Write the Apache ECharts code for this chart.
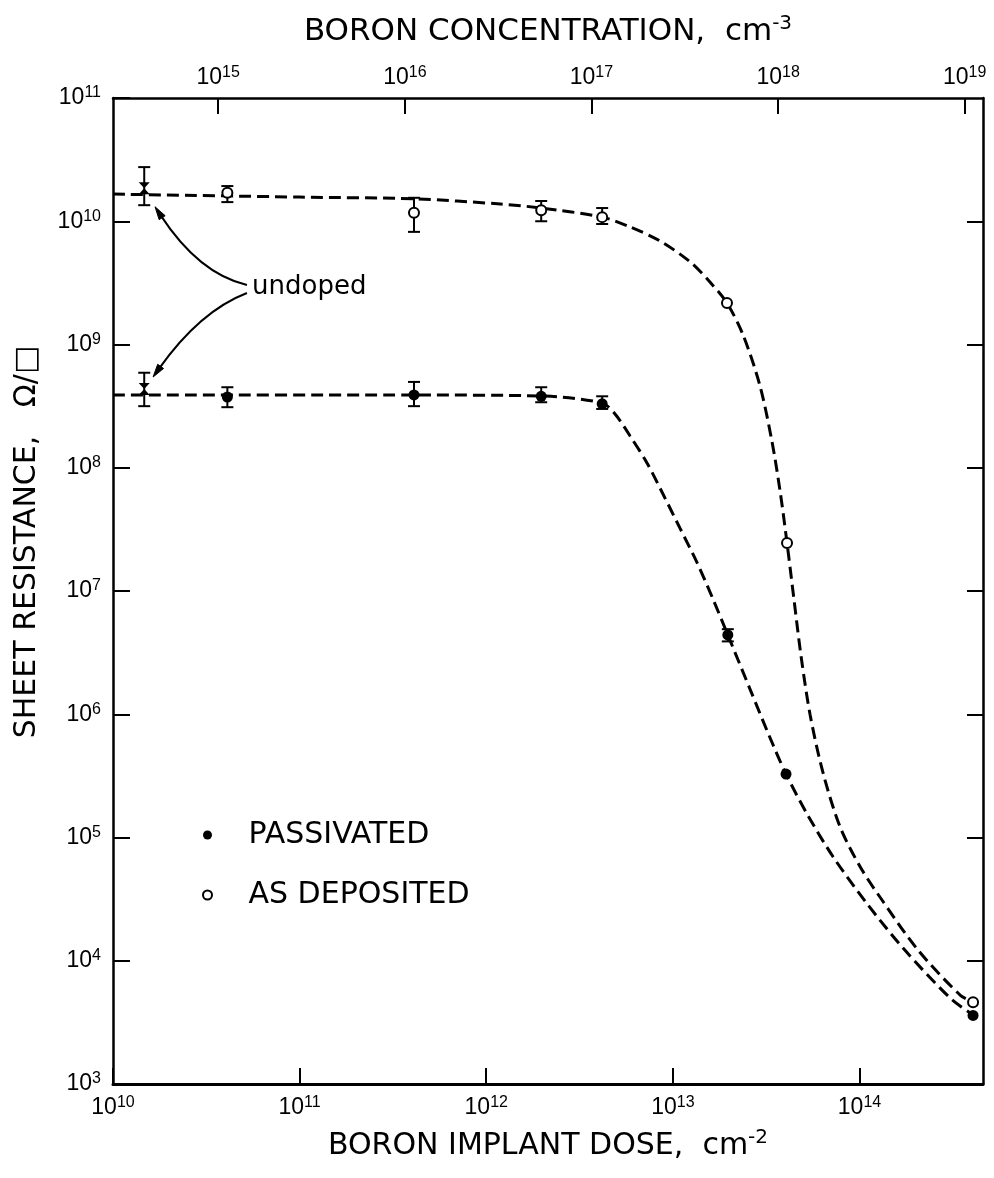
<!DOCTYPE html>
<html>
<head>
<meta charset="utf-8">
<script src="https://cdn.jsdelivr.net/npm/echarts@6/dist/echarts.min.js"></script>
<style>
html,body{margin:0;padding:0;background:#fff;}
#chart{width:994px;height:1178px;}
</style>
</head>
<body>
<div id="chart"></div>
<script>
// ---- axis ticks ----
const doseTicks = [1e10, 1e11, 1e12, 1e13, 1e14];
const concTicks = [1e15, 1e16, 1e17, 1e18, 1e19];
const resTicks = [1e3, 1e4, 1e5, 1e6, 1e7, 1e8, 1e9, 1e10, 1e11];
const resRightTicks = [1e4, 1e5, 1e6, 1e7, 1e8, 1e9, 1e10];
const doseRange = [1e10, 4.59e14];
const resRange = [1e3, 1e11];
const concPerDose = 2.73e4; // top axis: concentration = dose * factor

// ---- measured points: AS DEPOSITED (open circles) ----
const asDepDose = [4.1e10, 4.1e11, 1.97e12, 4.18e12, 1.95e13, 4.09e13, 4.06e14];
const asDepRes  = [1.7e10, 1.17e10, 1.23e10, 1.08e10, 2.17e9, 2.45e7, 4.6e3];
const asDepErrDose = [4.1e10, 4.1e11, 1.97e12, 4.18e12];
const asDepErrLow  = [1.43e10, 8.2e9, 1.0e10, 9.5e9];
const asDepErrHigh = [1.93e10, 1.55e10, 1.46e10, 1.28e10];

// ---- measured points: PASSIVATED (filled) ----
const passDose = [4.1e10, 4.1e11, 1.97e12, 4.18e12, 1.97e13, 4.04e13, 4.06e14];
const passRes  = [3.75e8, 3.9e8, 3.8e8, 3.3e8, 4.4e6, 3.27e5, 3.6e3];
const passErrDose = [4.1e10, 4.1e11, 1.97e12, 4.18e12, 1.97e13];
const passErrLow  = [3.1e8, 3.16e8, 3.4e8, 3.0e8, 3.9e6];
const passErrHigh = [4.5e8, 4.97e8, 4.5e8, 3.8e8, 4.9e6];

// ---- undoped samples ----
const undopedDose = [1.47e10, 1.47e10];
const undopedRes  = [1.85e10, 4.35e8];
const undopedErrLow  = [1.35e10, 3.16e8];
const undopedErrHigh = [2.75e10, 5.9e8];

// ---- dashed fit curves ----
const asDepCurveDose = [1.0e10, 1.0e11, 4.1e11, 1.19e12, 1.97e12, 4.18e12, 5.9e12, 8.53e12, 1.24e13, 1.58e13, 1.95e13, 2.38e13, 2.93e13, 3.4e13, 3.76e13, 4.09e13, 4.46e13, 4.87e13, 5.44e13, 6.38e13, 7.87e13, 1.01e14, 1.32e14, 2.06e14, 3.46e14, 4.06e14];
const asDepCurveRes  = [1.66e10, 1.57e10, 1.52e10, 1.38e10, 1.28e10, 1.08e10, 8.98e9, 6.92e9, 4.67e9, 3.21e9, 2.17e9, 1.19e9, 4.61e8, 1.62e8, 6.36e7, 2.45e7, 8.45e6, 2.91e6, 9.86e5, 3.34e5, 1.22e5, 5.76e4, 3.11e4, 1.22e4, 5.27e3, 4.62e3];
const passCurveDose = [1.0e10, 4.1e11, 1.97e12, 4.18e12, 4.9e12, 5.9e12, 7.28e12, 8.85e12, 1.09e13, 1.35e13, 1.64e13, 1.97e13, 2.59e13, 3.32e13, 4.04e13, 5.24e13, 7.23e13, 1.1e14, 1.75e14, 3.06e14, 4.06e14];
const passCurveRes  = [3.89e8, 3.89e8, 3.82e8, 3.35e8, 2.73e8, 1.81e8, 1.09e8, 6.12e7, 3.25e7, 1.69e7, 8.61e6, 4.4e6, 1.6e6, 6.42e5, 3.27e5, 1.55e5, 6.95e4, 2.89e4, 1.22e4, 4.99e3, 3.63e3];

// ---- annotation: label anchor and curved arrows [start, control, end] ----
const undopedLabelAt = [5.56e10, 2.93e9];
const arrowStart = [[5.22e10, 3.04e9], [5.22e10, 2.62e9]];
const arrowCtrl  = [[2.89e10, 3.73e9], [2.92e10, 1.87e9]];
const arrowEnd   = [[1.68e10, 1.31e10], [1.64e10, 5.45e8]];

const zip = (a, b) => a.map((v, i) => [v, b[i]]);
const zip3 = (a, b, c) => a.map((v, i) => [v, b[i], c[i]]);

const INK = '#000';
const TICKFONT = 'Liberation Sans';
const TITLEFONT = 'DejaVu Sans';

const powFmt = v => '{b|10}{s|' + Math.round(Math.log10(v)) + '}';
const tickRich = {
  b: {fontFamily: TICKFONT, fontSize: 23, color: INK, lineHeight: 26},
  s: {fontFamily: TICKFONT, fontSize: 16, color: INK, lineHeight: 16, verticalAlign: 'top'}
};
const titleRich = {
  t: {fontFamily: TITLEFONT, fontSize: 30, color: INK, lineHeight: 36},
  s: {fontFamily: TITLEFONT, fontSize: 20, color: INK, lineHeight: 20, verticalAlign: 'top'}
};

function errRender(params, api) {
  const x = api.value(0), lo = api.value(1), hi = api.value(2);
  const a = api.coord([x, hi]), b = api.coord([x, lo]);
  const w = 6;
  const st = {stroke: INK, lineWidth: 2};
  return {
    type: 'group',
    children: [
      {type: 'line', shape: {x1: a[0], y1: a[1], x2: b[0], y2: b[1]}, style: st},
      {type: 'line', shape: {x1: a[0] - w, y1: a[1], x2: a[0] + w, y2: a[1]}, style: st},
      {type: 'line', shape: {x1: b[0] - w, y1: b[1], x2: b[0] + w, y2: b[1]}, style: st}
    ]
  };
}

function arrowRender(params, api) {
  const p1 = api.coord([api.value(0), api.value(1)]);
  const c = api.coord([api.value(2), api.value(3)]);
  const p2 = api.coord([api.value(4), api.value(5)]);
  const dx = p2[0] - c[0], dy = p2[1] - c[1];
  const len = Math.hypot(dx, dy) || 1;
  const ux = dx / len, uy = dy / len;
  const L = 13, W = 3.6;
  const bx = p2[0] - ux * L, by = p2[1] - uy * L;
  return {
    type: 'group',
    children: [
      {type: 'bezierCurve', shape: {x1: p1[0], y1: p1[1], cpx1: c[0], cpy1: c[1], x2: bx + ux * 3, y2: by + uy * 3},
       style: {stroke: INK, lineWidth: 2, fill: null}},
      {type: 'polygon', shape: {points: [[p2[0], p2[1]], [bx - uy * W, by + ux * W], [bx + uy * W, by - ux * W]]},
       style: {fill: INK, stroke: INK, lineWidth: 1}}
    ]
  };
}

const dashStyle = {color: INK, width: 3, type: [12, 6]};

const chart = echarts.init(document.getElementById('chart'), null, {renderer: 'canvas'});
chart.setOption({
  backgroundColor: '#fff',
  animation: false,
  grid: {left: 113, right: 11, top: 98, bottom: 94, containLabel: false},
  legend: {
    orient: 'vertical', left: 197, top: 815,
    itemWidth: 72, itemHeight: 9, itemGap: 30,
    selectedMode: false,
    data: ['PASSIVATED', 'AS DEPOSITED'],
    textStyle: {fontFamily: TITLEFONT, fontSize: 30, color: INK, lineHeight: 30}
  },
  xAxis: [
    {
      type: 'log', logBase: 10, min: doseRange[0], max: doseRange[1], position: 'bottom',
      axisLine: {lineStyle: {color: INK, width: 3}},
      axisTick: {inside: true, length: 16, customValues: doseTicks, lineStyle: {color: INK, width: 2}},
      axisLabel: {customValues: doseTicks, formatter: powFmt, rich: tickRich, margin: 11},
      splitLine: {show: false},
      name: '{t|BORON IMPLANT DOSE,  cm}{s|-2}',
      nameLocation: 'middle', nameGap: 44,
      nameTextStyle: {rich: titleRich}
    },
    {
      type: 'log', logBase: 10, min: doseRange[0] * concPerDose, max: doseRange[1] * concPerDose, position: 'top',
      axisLine: {lineStyle: {color: INK, width: 2.5}},
      axisTick: {inside: true, length: 16, customValues: concTicks, lineStyle: {color: INK, width: 2}},
      axisLabel: {customValues: concTicks, formatter: powFmt, rich: tickRich, margin: 7},
      splitLine: {show: false},
      name: '{t|BORON CONCENTRATION,  cm}{s|-3}',
      nameLocation: 'middle', nameGap: 48,
      nameTextStyle: {rich: {
        t: {fontFamily: TITLEFONT, fontSize: 31, color: INK, lineHeight: 36},
        s: {fontFamily: TITLEFONT, fontSize: 20, color: INK, lineHeight: 20, verticalAlign: 'top'}
      }}
    }
  ],
  yAxis: [
    {
      type: 'log', logBase: 10, min: resRange[0], max: resRange[1], position: 'left',
      axisLine: {lineStyle: {color: INK, width: 2.5}},
      axisTick: {inside: true, length: 17, customValues: resTicks, lineStyle: {color: INK, width: 2}},
      axisLabel: {customValues: resTicks, formatter: powFmt, rich: tickRich, margin: 12},
      splitLine: {show: false},
      name: 'SHEET RESISTANCE,   Ω/□',
      nameLocation: 'middle', nameGap: 71, nameRotate: 90,
      nameTextStyle: {fontFamily: TITLEFONT, fontSize: 30, color: INK, padding: [0, 0, 0, 98]}
    },
    {
      type: 'log', logBase: 10, min: resRange[0], max: resRange[1], position: 'right',
      axisLine: {lineStyle: {color: INK, width: 2.5}},
      axisTick: {inside: true, length: 16, customValues: resRightTicks, lineStyle: {color: INK, width: 2}},
      axisLabel: {show: false},
      splitLine: {show: false}
    }
  ],
  series: [
    {name: 'asDepCurve', type: 'line', xAxisIndex: 0, yAxisIndex: 0, data: zip(asDepCurveDose, asDepCurveRes),
     smooth: 0.3, showSymbol: false, symbol: 'none', lineStyle: dashStyle, silent: true, z: 2},
    {name: 'passCurve', type: 'line', xAxisIndex: 0, yAxisIndex: 0, data: zip(passCurveDose, passCurveRes),
     smooth: 0.3, showSymbol: false, symbol: 'none', lineStyle: dashStyle, silent: true, z: 2},
    {name: 'errAsDep', type: 'custom', xAxisIndex: 0, yAxisIndex: 0, renderItem: errRender,
     encode: {x: 0, y: [1, 2]}, data: zip3(asDepErrDose, asDepErrLow, asDepErrHigh), z: 3, silent: true},
    {name: 'errPass', type: 'custom', xAxisIndex: 0, yAxisIndex: 0, renderItem: errRender,
     encode: {x: 0, y: [1, 2]}, data: zip3(passErrDose, passErrLow, passErrHigh), z: 3, silent: true},
    {name: 'errUndoped', type: 'custom', xAxisIndex: 0, yAxisIndex: 0, renderItem: errRender,
     encode: {x: 0, y: [1, 2]}, data: zip3(undopedDose, undopedErrLow, undopedErrHigh), z: 3, silent: true},
    {name: 'arrows', type: 'custom', xAxisIndex: 0, yAxisIndex: 0, renderItem: arrowRender,
     encode: {x: [0, 2, 4], y: [1, 3, 5]}, silent: true, z: 3,
     data: arrowStart.map((s, i) => [s[0], s[1], arrowCtrl[i][0], arrowCtrl[i][1], arrowEnd[i][0], arrowEnd[i][1]])},
    {name: 'PASSIVATED', type: 'scatter', xAxisIndex: 0, yAxisIndex: 0, data: zip(passDose, passRes),
     symbol: 'circle', symbolSize: 11, itemStyle: {color: INK, opacity: 1}, z: 4},
    {name: 'AS DEPOSITED', type: 'scatter', xAxisIndex: 0, yAxisIndex: 0, data: zip(asDepDose, asDepRes),
     symbol: 'circle', symbolSize: 10, itemStyle: {color: '#fff', borderColor: INK, borderWidth: 2, opacity: 1}, z: 5},
    {name: 'undoped', type: 'scatter', xAxisIndex: 0, yAxisIndex: 0, data: zip(undopedDose, undopedRes),
     symbol: 'path://M0,0 L10,0 L5,6 L10,12 L0,12 L5,6 Z', symbolSize: [11, 12], itemStyle: {color: INK, opacity: 1}, z: 5},
    {name: 'undopedLabel', type: 'scatter', xAxisIndex: 0, yAxisIndex: 0, data: [undopedLabelAt],
     symbolSize: 0, silent: true, z: 6,
     label: {show: true, position: 'right', distance: 0, formatter: 'undoped', opacity: 1,
       textBorderWidth: 0, fontFamily: TITLEFONT, fontSize: 26, color: INK}}
  ]
});
</script>
</body>
</html>
